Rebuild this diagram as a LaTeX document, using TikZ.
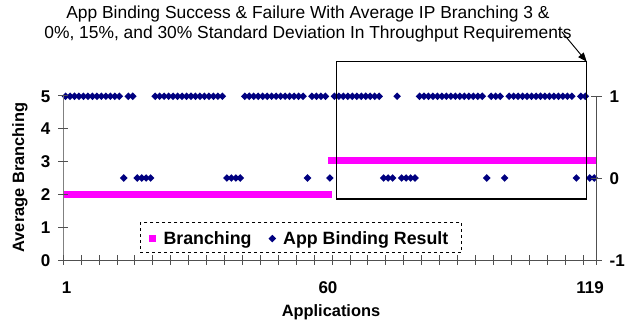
\documentclass[tikz,border=0pt]{standalone}
\usepackage{fontspec}
\setmainfont{Liberation Sans}
\usetikzlibrary{arrows.meta}
\definecolor{navy}{HTML}{000080}
\definecolor{mag}{HTML}{FF00FF}
\definecolor{axgray}{HTML}{808080}
\definecolor{axdark}{HTML}{505050}
\tikzset{
  dmd/.pic={\fill[navy] (-3.8,0)--(0,-3.8)--(3.8,0)--(0,3.8)--cycle;},
  ticklbl/.style={font=\fontsize{17}{20}\selectfont\bfseries, inner sep=0pt},
  axtitle/.style={font=\fontsize{16.4}{19}\selectfont\bfseries, inner sep=0pt},
  legtext/.style={font=\fontsize{17.8}{20}\selectfont\bfseries, inner sep=0pt, anchor=base west},
  leftax/.style={draw=axgray, line width=1.3pt},
  darkax/.style={draw=axdark, line width=1pt},
}
\begin{document}
\begin{tikzpicture}[x=1pt,y=-1pt]
\useasboundingbox (0,0) rectangle (641,328);
% title
\node[font=\fontsize{17.4}{20}\selectfont, align=center, inner sep=0pt, anchor=base] (title) at (308,38.5)
  {App Binding Success \& Failure With Average IP Branching 3 \&\\0\%, 15\%, and 30\% Standard Deviation In Throughput Requirements};
% branching series
\fill[mag] (63.3,191) rectangle (331.7,198);
\fill[mag] (327.7,157.2) rectangle (596,164.2);
% app binding result diamonds
\foreach \a/\b in {1/13,15/16,21/36,41/54,56/59,61/71,75/75,80/94,96/98,100/114,116/117}
  \foreach \i in {\a,...,\b}
    \pic at ({63.3+(\i-0.5)*4.4807},96.3) {dmd};
\foreach \a/\b in {14/14,17/20,37/40,55/55,60/60,72/74,76/79,95/95,99/99,115/115,118/119}
  \foreach \i in {\a,...,\b}
    \pic at ({63.3+(\i-0.5)*4.4807},178) {dmd};
% left axis
\draw[leftax] (63.3,96) -- (63.3,260.5);
\foreach \v in {0,...,5}{
  \draw[darkax] (58,{260.5-\v*32.9}) -- (68,{260.5-\v*32.9});
  \node[ticklbl, anchor=base east] (l\v) at (50.5,{260.5-\v*32.9+6.1}) {\v};
}
% right axis
\draw[darkax] (596.5,96) -- (596.5,260.5);
\foreach \v/\yy in {1/96.3,0/178.4,-1/260.5}{
  \draw[darkax] (591,\yy) -- (602,\yy);
  \node[ticklbl, anchor=base west] at (609.5,\yy+6.1) {\v};
}
% x axis
\draw[darkax] (58,260.5) -- (596.5,260.5);
\foreach \k in {0,...,29}
  \draw[darkax] ({63.3+\k*17.923},255.5) -- ({63.3+\k*17.923},265.5);
\draw[darkax] (596.5,255.5) -- (596.5,265.5);
\node[ticklbl, anchor=base] (x1) at (66.7,294) {1};
\node[ticklbl, anchor=base] (x60) at (328,294) {60};
\node[ticklbl, anchor=base] (x119) at (590,294) {119};
\node[axtitle, anchor=base] (xt) at (331,317) {Applications};
\node[axtitle, rotate=90, anchor=base] (yt) at (24,177.5) {Average Branching};
% highlight box and arrow
\draw[black, line width=1.3pt] (336.7,61.7) rectangle (586.7,199);
\coordinate (bc) at (586.7,61.7);
\coordinate (as) at (561.7,31.7);
\draw[black, line width=0.9pt, -{Triangle[length=9pt,width=7pt]}] (as) -- (bc);
% legend
\draw[black, dashed, line width=0.8pt, fill=white] (140,222.3) rectangle (461.7,252.3);
\fill[mag] (149,235.2) rectangle (155.8,242);
\node[legtext] (lg1) at (163.3,244.3) {Branching};
\pic at (272.3,238.6) {dmd};
\node[legtext] (lg2) at (283,244.3) {App Binding Result};
\end{tikzpicture}
\end{document}
